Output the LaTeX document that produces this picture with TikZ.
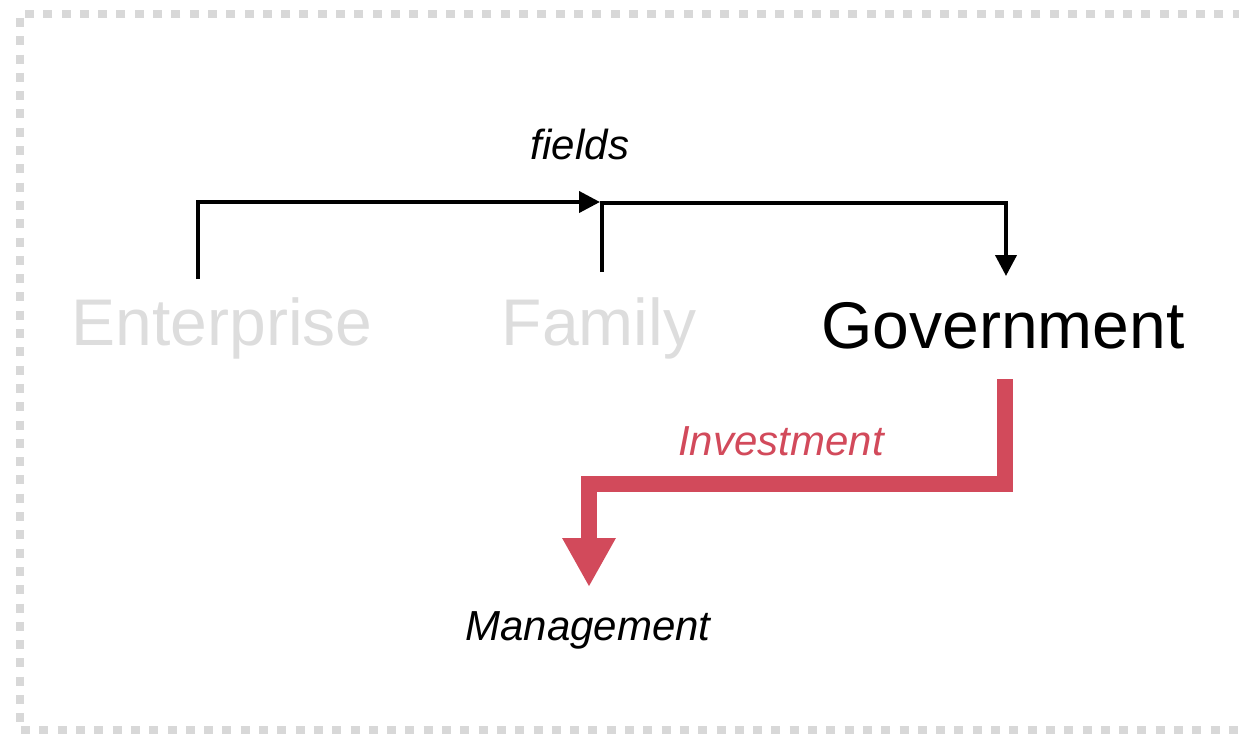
\documentclass[tikz,border=0pt]{standalone}
\usepackage{fontspec}
\setmainfont{Liberation Sans}
\usetikzlibrary{arrows.meta}
\definecolor{faded}{RGB}{221,221,221}
\definecolor{dotgray}{RGB}{216,216,216}
\definecolor{invred}{RGB}{210,74,91}
\begin{document}
\begin{tikzpicture}[x=1pt,y=-1pt,
  bigword/.style={inner sep=0pt,anchor=base,font=\fontsize{66}{70}\selectfont},
  smallword/.style={inner sep=0pt,anchor=base,font=\fontsize{42}{46}\selectfont\itshape},
  flowline/.style={draw=black,line width=4pt,-{Triangle[length=21pt,width=21pt]}},
  investline/.style={draw=invred,line width=16pt,line join=miter,-{Triangle[length=49pt,width=50pt]}}]
\useasboundingbox (0,0) rectangle (1239,734);
\draw[dotgray,line width=8pt,dash pattern=on 9pt off 9.3pt] (1260,14) -- (19.5,14) -- (19.5,730) -- (1260,730);
\node[bigword,text=faded] (ent) at (222,345) {Enterprise};
\node[bigword,text=faded] (fam) at (599,345) {Family};
\node[bigword] (gov) at (1003,348) {Government};
\node[smallword] (fields) at (580,159) {fields};
\node[smallword,text=invred] (inv) at (781,455) {Investment};
\node[smallword] (mgmt) at (588,640) {Management};
\coordinate (e0) at (198,279);
\coordinate (f0) at (602,272);
\coordinate (fj) at (600,202);
\coordinate (g0) at (1006,276);
\coordinate (r0) at (1005,379);
\coordinate (r1) at (589,587);
\draw[flowline] (e0) |- (fj);
\draw[flowline] (f0) -- ++(0,-69) -| (g0);
\draw[investline] (r0) -- (1005,484) -- (589,484) -- (r1);
\end{tikzpicture}
\end{document}
